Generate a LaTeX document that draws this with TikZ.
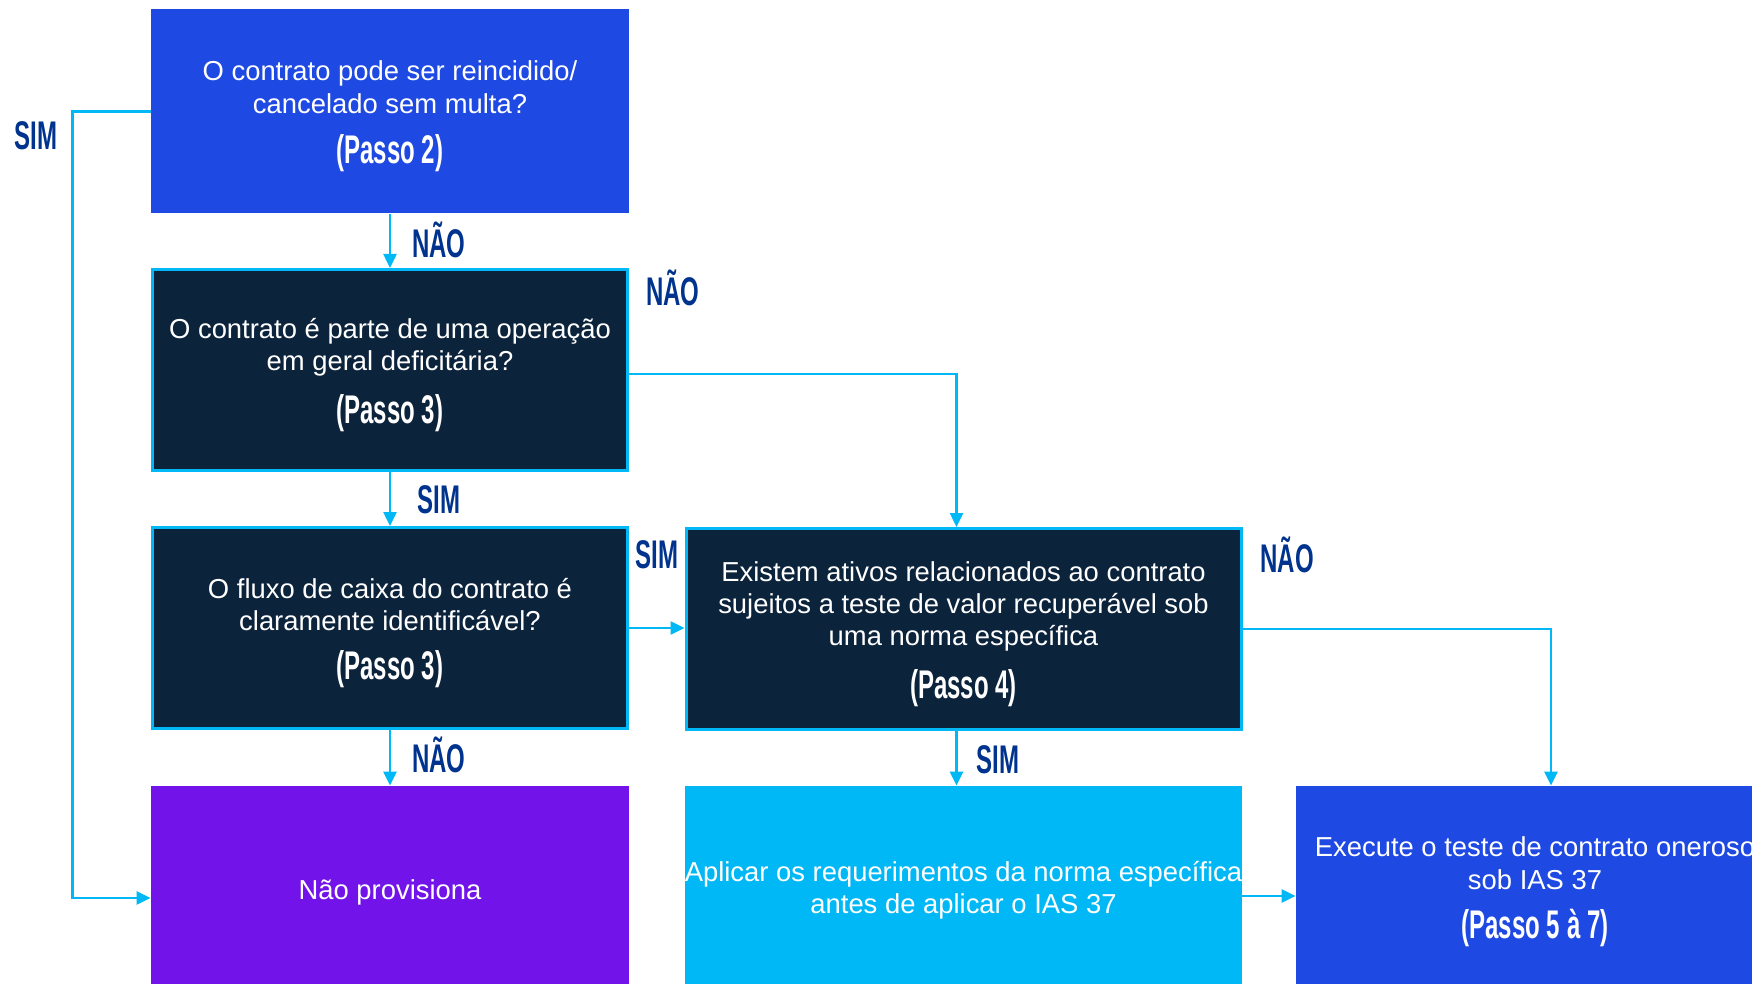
\documentclass[tikz,border=0pt]{standalone}
\usepackage{fontspec}
\setmainfont{Liberation Sans}
\newfontfamily\condfont{Liberation Sans}[FakeStretch=0.6]
\usetikzlibrary{arrows.meta,calc}

\definecolor{cobalt}{HTML}{1E49E2}
\definecolor{navy}{HTML}{0C233C}
\definecolor{cyanline}{HTML}{00B8F5}
\definecolor{purp}{HTML}{7213EA}
\definecolor{lblblue}{HTML}{00338D}

\newcommand\passo[1]{{\condfont\bfseries\fontsize{20}{24}\selectfont #1}}

\tikzset{
  box/.style={minimum width=239pt, minimum height=102pt, inner sep=0pt},
  darkbox/.style={box, fill=navy, draw=cyanline, line width=1.5pt,
    minimum width=237.5pt, minimum height=100.5pt},
  boxtext/.style={inner sep=0pt, text=white, align=center,
    font=\fontsize{13.7}{16.2}\selectfont},
  flow/.style={draw=cyanline, line width=1.25pt,
    -{Triangle[length=7pt,width=6.5pt]}},
  answer/.style={text=lblblue, inner sep=0pt, text height=14.3pt, text depth=0pt,
    font=\condfont\bfseries\fontsize{20}{24}\selectfont},
}

\begin{document}
\begin{tikzpicture}[x=0.5pt,y=-0.5pt]
\useasboundingbox (0,0) rectangle (1752,984);
\clip (0,0) rectangle (1752,984);

% decision boxes
\node[box, fill=cobalt] (q1) at (390,111.5) {};
\node[darkbox] (q2) at (390,370) {};
\node[darkbox] (q3) at (390,628) {};
\node[darkbox, minimum width=277.5pt] (q4) at (963.5,629) {};

% outcome boxes
\node[box, fill=purp] (r1) at (390,888) {};
\node[box, fill=cyanline, minimum width=278.5pt] (r2) at (963.5,888) {};
\node[box, fill=cobalt] (r3) at (1535,888) {};

% box texts
\node[boxtext] (t1) at ($(q1)+(0,5)$)
  {O contrato pode ser reincidido/\\cancelado sem multa?\\[9pt]\passo{(Passo 2)}};
\node[boxtext] (t2) at ($(q2)+(0,5)$)
  {O contrato é parte de uma operação\\em geral deficitária?\\[8pt]\passo{(Passo 3)}};
\node[boxtext] (t3) at ($(q3)+(0,5)$)
  {O fluxo de caixa do contrato é\\claramente identificável?\\[8.5pt]\passo{(Passo 3)}};
\node[boxtext] (t4) at ($(q4)+(0,5)$)
  {Existem ativos relacionados ao contrato\\sujeitos a teste de valor recuperável sob\\uma norma específica\\[8pt]\passo{(Passo 4)}};
\node[boxtext] (t5) at ($(r1)+(0,4.5)$) {Não provisiona};
\node[boxtext] (t6) at ($(r2)+(0,2.5)$)
  {Aplicar os requerimentos da norma específica\\antes de aplicar o IAS 37};
\node[boxtext] (t7) at ($(r3)+(0,4)$)
  {Execute o teste de contrato oneroso\\sob IAS 37\\[8.5pt]\passo{(Passo 5 à 7)}};

% connectors
\draw[flow] (q1.south) -- (q2.north);
\draw[flow] (q1.west) -- ++(-78,0) |- ($(r1.west)+(0,10)$);
\draw[flow] (q2.south) -- (q3.north);
\draw[flow] ($(q2.east)+(0,4)$) -| ($(q4.north)+(-7,0)$);
\draw[flow] (q3.east) -- (q3.east -| q4.west);
\draw[flow] (q3.south) -- (r1.north);
\draw[flow] ($(q4.south)+(-7,0)$) -- ($(r2.north)+(-7,0)$);
\draw[flow] (q4.east) -| ($(r3.north)+(16,0)$);
\draw[flow] ($(r2.east)+(0,8)$) -- ($(r3.west)+(0,8)$);

% answers
\node[answer] (a1) at (439,243) {NÃO};
\node[answer] (a2) at (36,135) {SIM};
\node[answer] (a3) at (673,291) {NÃO};
\node[answer] (a4) at (439,499) {SIM};
\node[answer] (a5) at (657,554) {SIM};
\node[answer] (a6) at (439,758) {NÃO};
\node[answer] (a7) at (998,759) {SIM};
\node[answer] (a8) at (1287,558) {NÃO};
\end{tikzpicture}
\end{document}
